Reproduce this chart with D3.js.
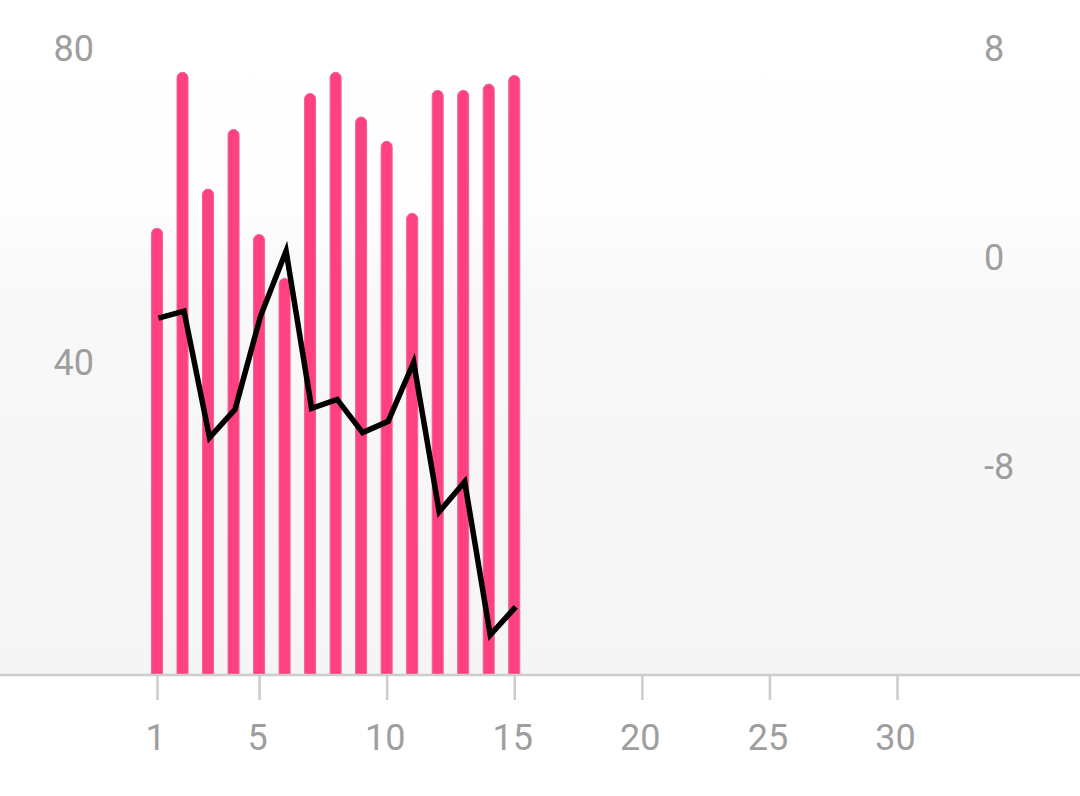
<!DOCTYPE html>
<html><head><meta charset="utf-8">
<script src="https://cdn.jsdelivr.net/npm/d3@7"></script>
<style>html,body{margin:0;padding:0;background:#fff;}svg{display:block;font-family:Roboto,sans-serif;}</style>
</head><body>
<svg id="chart" width="1080" height="796"></svg>
<script>
const days = [1,2,3,4,5,6,7,8,9,10,11,12,13,14,15];
const barValues = [57.0,76.9,62.0,69.6,56.2,50.6,74.2,76.9,71.2,68.1,58.9,74.6,74.6,75.4,76.5];
const lineValues = [-2.34,-2.07,-6.91,-5.83,-2.26,0.23,-5.79,-5.45,-6.72,-6.29,-4.03,-9.75,-8.60,-14.47,-13.39];
const xTicks = [1,5,10,15,20,25,30];
const leftTicks = [40,80];
const rightTicks = [-8,0,8];

const svg = d3.select("#chart");
const W = 1080, baseY = 675;
const x = d3.scaleLinear().domain([1,30]).range([157,897]);
const yL = d3.scaleLinear().domain([0,80]).range([baseY,48]);
const yR = d3.scaleLinear().domain([-16,8]).range([baseY,48]);

const defs = svg.append("defs");
const g = defs.append("linearGradient").attr("id","bg").attr("x1",0).attr("y1",0).attr("x2",0).attr("y2",1);
g.append("stop").attr("offset","0%").attr("stop-color","#ffffff");
g.append("stop").attr("offset","28%").attr("stop-color","#fefefe");
g.append("stop").attr("offset","45%").attr("stop-color","#f8f8f8");
g.append("stop").attr("offset","100%").attr("stop-color","#f5f5f5");
svg.append("rect").attr("x",0).attr("y",0).attr("width",W).attr("height",baseY).attr("fill","url(#bg)");

// bars with rounded tops
const bw = 11, r = 5.5;
svg.append("g").selectAll("path").data(days).join("path")
  .attr("d",(d,i)=>{
    const cx = x(d), top = yL(barValues[i]), l = cx-bw/2, rr = cx+bw/2;
    return `M${l},${baseY} L${l},${top+r} A${r},${r} 0 0 1 ${rr},${top+r} L${rr},${baseY} Z`;
  })
  .attr("fill","#ff4081").attr("stroke","#f06292").attr("stroke-width",1);

// axis line
svg.append("line").attr("x1",0).attr("x2",W).attr("y1",baseY).attr("y2",baseY)
  .attr("stroke","#cccccc").attr("stroke-width",2.5);

// x axis ticks & labels
const xAxis = d3.axisBottom(x).tickValues(xTicks).tickSize(24).tickPadding(24).tickFormat(d3.format("d"));
const xa = svg.append("g").attr("transform",`translate(0,${baseY+1})`).call(xAxis);
xa.select(".domain").remove();
xa.selectAll(".tick line").attr("stroke","#cccccc").attr("stroke-width",2.5);
xa.selectAll(".tick text").attr("fill","#9e9e9e").attr("font-size",36).attr("font-family","Roboto,sans-serif").attr("dx",-2);

// left axis labels
const la = svg.append("g").attr("transform","translate(94,0)").call(d3.axisLeft(yL).tickValues(leftTicks).tickSize(0).tickPadding(0));
la.select(".domain").remove();
la.selectAll(".tick text").attr("fill","#9e9e9e").attr("font-size",36).attr("font-family","Roboto,sans-serif").attr("dy","0.35em");

// right axis labels
const ra = svg.append("g").attr("transform","translate(984,0)").call(d3.axisRight(yR).tickValues(rightTicks).tickSize(0).tickPadding(0).tickFormat(d3.format("d")));
ra.select(".domain").remove();
ra.selectAll(".tick text").attr("fill","#9e9e9e").attr("font-size",36).attr("font-family","Roboto,sans-serif").attr("dy","0.35em").text(d=>String(d));

// line
const line = d3.line().x((d,i)=>x(d)+1.5).y((d,i)=>yR(lineValues[i]));
svg.append("path").datum(days).attr("d",line).attr("fill","none")
  .attr("stroke","#000").attr("stroke-width",5.5).attr("stroke-linejoin","miter");
</script>
</body></html>
